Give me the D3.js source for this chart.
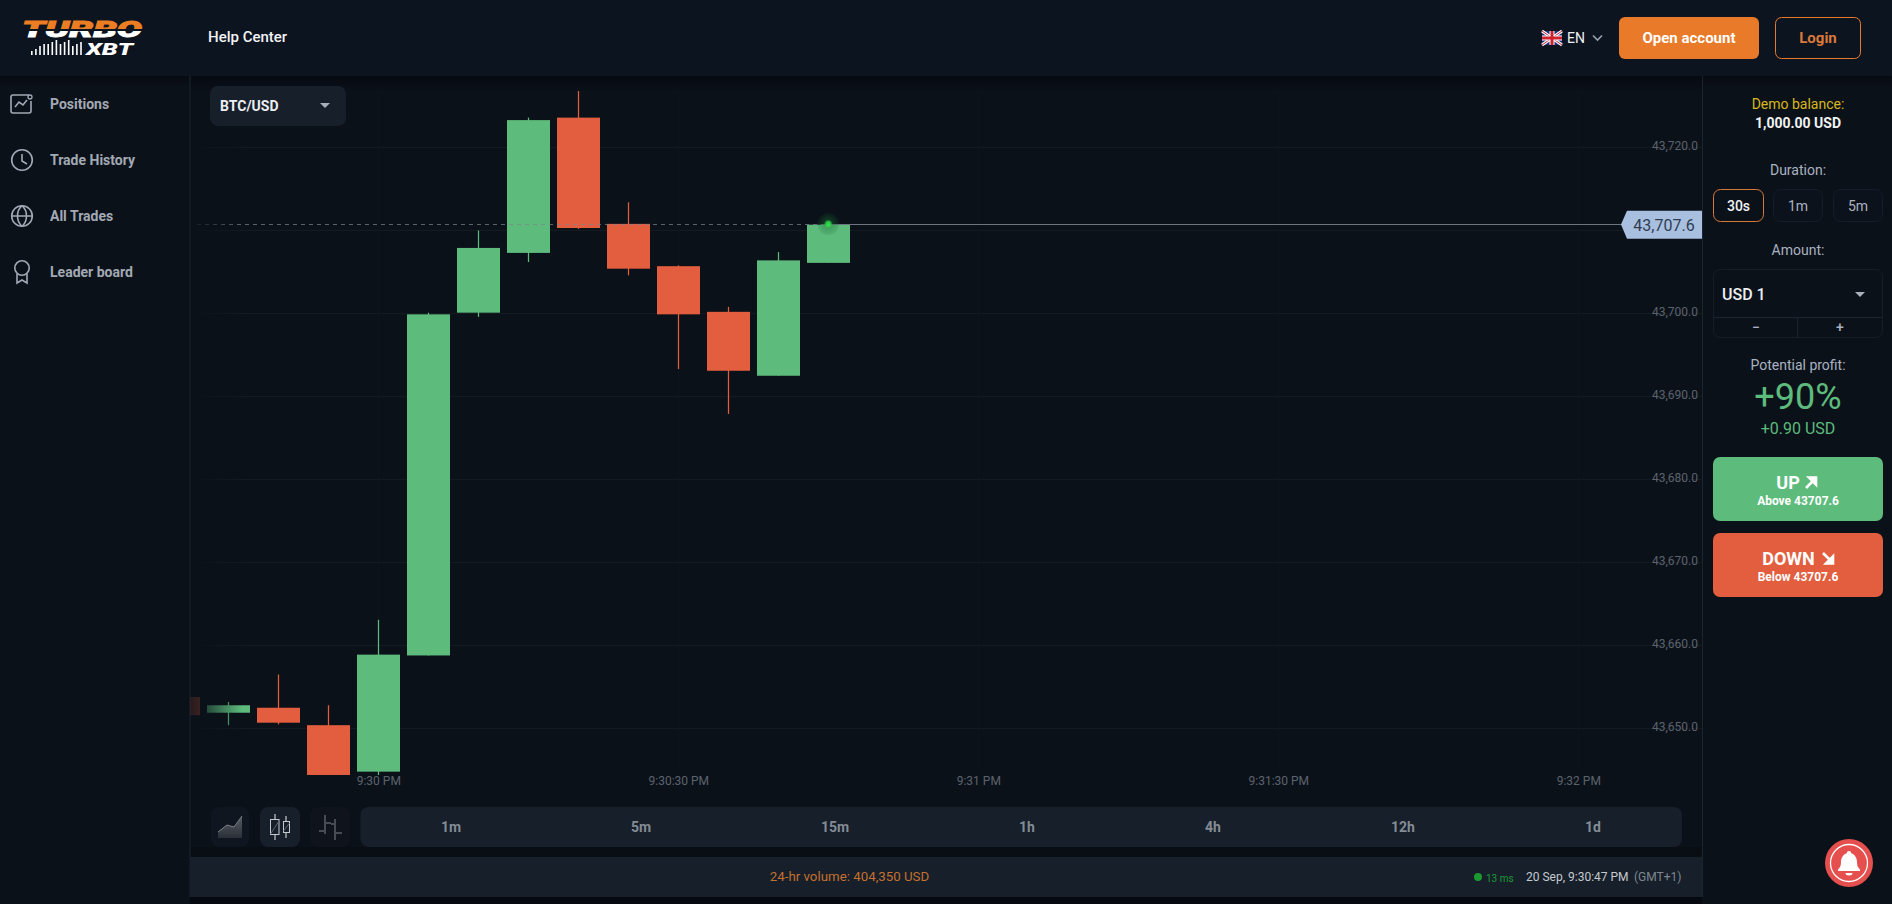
<!DOCTYPE html>
<html><head><meta charset="utf-8">
<script src="https://cdn.jsdelivr.net/npm/d3@7"></script>
<style>
html,body{margin:0;padding:0;background:#0b1119;overflow:hidden}
svg{display:block}
text{font-family:Roboto,sans-serif}
</style></head><body>
<script>
// ---- chart data ----
const candleSeconds = [-20,-15,-10,-5,0,5,10,15,20,25,30,35,40,45];
const opens  = [43653.8,43651.9,43652.5,43650.4,43644.8,43658.8,43700.1,43707.3,43723.6,43710.8,43705.7,43700.2,43692.5,43706.1];
const highs  = [43653.8,43653.2,43656.5,43652.8,43663.1,43700.1,43710.0,43723.6,43726.8,43713.4,43705.8,43700.8,43707.4,43710.7];
const lows   = [43651.6,43650.4,43650.5,43644.4,43644.4,43658.8,43699.6,43706.2,43710.2,43704.6,43693.3,43687.9,43692.5,43706.1];
const closes = [43651.6,43652.8,43650.7,43644.4,43658.9,43699.9,43707.9,43723.3,43710.3,43705.4,43699.9,43693.1,43706.4,43710.7];
const gridLevels = [43650,43660,43670,43680,43690,43700,43710,43720];
const priceTickLabels = [43650,43660,43670,43680,43690,43700,43720];
const timeTickSeconds = [0,30,60,90,120];
const lastPriceLabel = "43,707.6";
const lastPriceLevel = 43710.7;
const timeframes = ["1m","5m","15m","1h","4h","12h","1d"];
const menuItems = ["Positions","Trade History","All Trades","Leader board"];
const durations = ["30s","1m","5m"];

const W=1892,H=904;
const c={bg:"#0b1119",head:"#0c1420",panel:"#161f2a",line:"#1e2631",green:"#5dbb7c",red:"#e25e3e",
  orange:"#e87a2a",muted:"#a3a9b4",soft:"#a9b2c0",tick:"#5c636d"};
const svg=d3.select("body").append("svg").attr("width",W).attr("height",H).attr("viewBox",`0 0 ${W} ${H}`);
const defs=svg.append("defs");
const rect=(x,y,w,h,fill,rx,extra)=>{const e=(extra&&extra.parent||svg).append("rect").attr("x",x).attr("y",y).attr("width",w).attr("height",h).attr("fill",fill);if(rx)e.attr("rx",rx);if(extra&&extra.stroke)e.attr("stroke",extra.stroke);return e;};
const txt=(s,x,y,size,fill,o={})=>{const e=(o.parent||svg).append("text").text(s).attr("x",x).attr("y",y).attr("font-size",size).attr("fill",fill)
  .attr("dominant-baseline","central").attr("text-anchor",o.anchor||"start").attr("font-weight",o.weight||400);return e;};
const path=(d,o={})=>{const e=(o.parent||svg).append("path").attr("d",d).attr("fill",o.fill||"none");if(o.stroke)e.attr("stroke",o.stroke).attr("stroke-width",o.sw||1.5);if(o.cap)e.attr("stroke-linecap",o.cap);return e;};

// ---- frame ----
rect(0,0,W,H,c.bg);
rect(0,0,W,76,c.head);
const hs=defs.append("linearGradient").attr("id","hs").attr("x1",0).attr("x2",0).attr("y1",0).attr("y2",1);
hs.append("stop").attr("offset",0).attr("stop-color","#060a11");hs.append("stop").attr("offset",1).attr("stop-color","#0b1119");
rect(190,76,1512,16,"url(#hs)");
rect(0,76,189,10,"url(#hs)");
rect(1703,76,189,10,"url(#hs)");
rect(190,847,1512,10,"#090e15");
rect(190,897,1512,7,"#060a10");
rect(189.5,76,1,821,"#1c2430");
rect(1702,76,1,821,"#1c2430");

// ---- scales ----
const t0=new Date(2023,8,20,21,30,0);
const toDate=s=>new Date(+t0+s*1000);
const x=d3.scaleTime().domain([toDate(0),toDate(120)]).range([378.3,1578.3]);
const y=d3.scaleLinear().domain([43650,43720]).range([728.5,147.5]);
const bw=43;
const crisp=v=>Math.floor(v)+.5;

// fade on left side of plot
const fade=defs.append("linearGradient").attr("id","fade").attr("gradientUnits","userSpaceOnUse").attr("x1",185).attr("x2",242).attr("y1",0).attr("y2",0);
fade.append("stop").attr("offset",0).attr("stop-color","#111");
fade.append("stop").attr("offset",0.26).attr("stop-color","#383838");
fade.append("stop").attr("offset",1).attr("stop-color","#fff");
defs.append("mask").attr("id","plotMask").attr("maskUnits","userSpaceOnUse").attr("x",190).attr("y",76).attr("width",1512).attr("height",780)
  .append("rect").attr("x",190).attr("y",76).attr("width",1512).attr("height",780).attr("fill","url(#fade)");
const plot=svg.append("g").attr("mask","url(#plotMask)");

// grid
plot.append("g").selectAll("line").data(gridLevels).join("line")
  .attr("x1",190).attr("x2",1702).attr("y1",d=>crisp(y(d))).attr("y2",d=>crisp(y(d))).attr("stroke","#131a22");
plot.append("g").selectAll("line").data(timeTickSeconds).join("line")
  .attr("x1",d=>crisp(x(toDate(d)))).attr("x2",d=>crisp(x(toDate(d)))).attr("y1",92).attr("y2",770).attr("stroke","#0e141c");

// candles
const candles=candleSeconds.map((s,i)=>({t:toDate(s),o:opens[i],h:highs[i],l:lows[i],c:closes[i]}));
const col=d=>d.c>=d.o?c.green:c.red;
const cg=plot.append("g").selectAll("g").data(candles).join("g");
cg.append("line").attr("x1",d=>crisp(x(d.t))).attr("x2",d=>crisp(x(d.t))).attr("y1",d=>y(d.h)).attr("y2",d=>y(d.l)).attr("stroke",col).attr("stroke-width",1.25);
cg.append("rect").attr("x",d=>Math.round(x(d.t)-bw/2)).attr("width",bw).attr("y",d=>y(Math.max(d.o,d.c))).attr("height",d=>Math.abs(y(d.o)-y(d.c))).attr("fill",col);

// price line
const py=crisp(y(lastPriceLevel));
const lastX=x(candles[candles.length-1].t);
plot.append("line").attr("x1",197).attr("x2",lastX).attr("y1",py).attr("y2",py).attr("stroke","#7c8590").attr("stroke-dasharray","4 4").attr("stroke-opacity",.7);
svg.append("line").attr("x1",lastX).attr("x2",1622).attr("y1",py).attr("y2",py).attr("stroke","#6d7680");
const glow=defs.append("radialGradient").attr("id","glow");
glow.append("stop").attr("offset",0).attr("stop-color","#30e84c");
glow.append("stop").attr("offset",.25).attr("stop-color","#2cd046").attr("stop-opacity",.85);
glow.append("stop").attr("offset",.4).attr("stop-color","#1a7a35").attr("stop-opacity",.38);
glow.append("stop").attr("offset",1).attr("stop-color","#14602c").attr("stop-opacity",.1);
svg.append("circle").attr("cx",lastX).attr("cy",py-.5).attr("r",11).attr("fill","url(#glow)");

// axes
const yAxis=d3.axisLeft(y).tickValues(priceTickLabels).tickSize(0).tickPadding(0).tickFormat(d3.format(",.1f"));
const ya=svg.append("g").attr("transform","translate(1698,1)").call(yAxis);
ya.select(".domain").remove();
ya.selectAll("text").attr("font-size",12).attr("font-family","Roboto").attr("fill",c.tick).attr("dy","0.1em");
const xAxis=d3.axisBottom(x).tickValues(timeTickSeconds.map(toDate)).tickSize(0).tickPadding(0).tickFormat(d3.timeFormat("%-I:%M:%S %p"));
const xa=svg.append("g").attr("transform","translate(0,776.5)").call(xAxis);
xa.select(".domain").remove();
xa.selectAll("text").text(d=>d.getSeconds()?d3.timeFormat("%-I:%M:%S %p")(d):d3.timeFormat("%-I:%M %p")(d))
  .attr("font-size",12).attr("font-family","Roboto").attr("fill",c.tick).attr("dy","0.71em");

// price tag
path(`M1621 ${py}L1627 210.7H1702V238.7H1627Z`,{fill:"#a9bfdf"});
txt(lastPriceLabel,1664,225,16,"#2f3d52",{anchor:"middle"});

// ---- header ----
const lg=defs.append("linearGradient").attr("id","logo").attr("gradientUnits","userSpaceOnUse").attr("x1",0).attr("x2",0).attr("y1",21).attr("y2",37);
[[0,"#ec7d22"],[.52,"#ec7d22"],[.53,"#0c1420"],[.6,"#0c1420"],[.61,"#ffffff"],[1,"#ffffff"]].forEach(([o,k])=>lg.append("stop").attr("offset",o).attr("stop-color",k));
svg.append("text").text("TURBO").attr("x",22).attr("y",37).attr("font-size",22).attr("font-weight",900).attr("font-style","italic")
  .attr("font-family","'Liberation Sans'").attr("fill","url(#logo)").attr("stroke","url(#logo)").attr("stroke-width",.9).attr("textLength",120).attr("lengthAdjust","spacingAndGlyphs");
svg.append("text").text("XBT").attr("x",86).attr("y",55).attr("font-size",16).attr("font-weight",900).attr("font-style","italic")
  .attr("font-family","'Liberation Sans'").attr("fill","#fff").attr("textLength",47).attr("lengthAdjust","spacingAndGlyphs");
[4,6,9,11,11,13,15,11,13,15,9,11,13].forEach((h,i)=>rect(31+i*4.1,55-h,1.6,h,"#fff"));
txt("Help Center",208,37,15,"#f2f3f5",{weight:500});

// flag
rect(1542,31,20,14,"#23307a");
path("M1542 31L1562 45M1562 31L1542 45",{stroke:"#fff",sw:3});
path("M1542 31L1562 45M1562 31L1542 45",{stroke:"#d0202e",sw:1});
rect(1549.5,31,5,14,"#fff");rect(1542,35.5,20,5,"#fff");
rect(1550.5,31,3,14,"#d0202e");rect(1542,36.5,20,3,"#d0202e");
txt("EN",1567,38,14,"#eef0f2",{weight:400});
path("M1593 35.5L1597.5 40L1602 35.5",{stroke:"#9aa1ab",sw:1.6});
rect(1619,17,140,42,c.orange,6);
txt("Open account",1689,38,15,"#fff",{anchor:"middle",weight:700});
rect(1775.5,17.5,85,41,"none",6,{stroke:c.orange});
txt("Login",1818,38,15,"#d9793a",{anchor:"middle",weight:700});

// ---- sidebar ----
menuItems.forEach((m,i)=>txt(m,50,104+i*56,14,c.muted,{weight:700}));
const ic={stroke:c.muted,sw:1.6};
path("M29 95H13a2 2 0 0 0-2 2V111a2 2 0 0 0 2 2H29a2 2 0 0 0 2-2V101",ic);
path("M15 107L19 102L23 105L27 100",ic);
svg.append("circle").attr("cx",30).attr("cy",97).attr("r",2).attr("fill","none").attr("stroke",c.muted).attr("stroke-width",1.3);
svg.append("circle").attr("cx",22).attr("cy",160).attr("r",10.3).attr("fill","none").attr("stroke",c.muted).attr("stroke-width",1.6);
path("M22 154V161L27 164",ic);
svg.append("circle").attr("cx",22).attr("cy",216).attr("r",10.3).attr("fill","none").attr("stroke",c.muted).attr("stroke-width",1.6);
path("M12 216H32M22 205.7C16 211 16 221 22 226.3M22 205.7C28 211 28 221 22 226.3",ic);
svg.append("circle").attr("cx",22).attr("cy",268).attr("r",7.2).attr("fill","none").attr("stroke",c.muted).attr("stroke-width",1.6);
path("M17 274V283L22 280L27 283V274",ic);

// symbol selector
rect(210,86,136,40,c.panel,8);
txt("BTC/USD",220,105.5,14,"#eceef1",{weight:700});
path("M320 103H330L325 108Z",{fill:"#a9b0ba"});

// ---- chart-type buttons ----
rect(211,807,38,40,"#10161f",8);
rect(260,807,40,40,c.panel,8);
rect(310,807,40,40,"#0f141c",8);
const ag=defs.append("linearGradient").attr("id","areaG").attr("x1",0).attr("x2",0).attr("y1",0).attr("y2",1);
ag.append("stop").attr("offset",0).attr("stop-color","#5a5f66");ag.append("stop").attr("offset",1).attr("stop-color","#2a2f37");
path("M218 832L227 825L234 827L242 816V838H218Z",{fill:"url(#areaG)"});
path("M218 832L227 825L234 827L242 816",{stroke:"#7b8087",sw:1});
const icw={stroke:"#c5cad0",sw:1.2};
path("M275 814V840M286 816V838",icw);
rect(270.5,819.5,8.5,15,"#161f2a",0,{stroke:"#c5cad0"});
rect(283.5,821.5,6,11,"#161f2a",0,{stroke:"#c5cad0"});
path("M270.5 834L279 821M283.5 831L289.5 823",{stroke:"#5f6670",sw:1});
const icb={stroke:"#474c54",sw:2};
path("M325 815V834M319 831H325M331 823H325M335 819V840M331 824H335M335 833H342",icb);

// timeframes
rect(360.5,807,1321.5,40,c.panel,8);
const tfCenters=[451,641,835,1027,1213,1403,1593];
timeframes.forEach((t,i)=>txt(t,tfCenters[i],826.5,14,"#848b95",{anchor:"middle",weight:700}));

// ---- status bar ----
rect(190,857,1512,40,c.panel);
txt("24-hr volume: 404,350 USD",849.5,876.5,13.3,"#c4702f",{anchor:"middle"});
svg.append("circle").attr("cx",1478).attr("cy",877).attr("r",4).attr("fill","#1a9a2f");
txt("13 ms",1486,878,10,"#1d9a35");
txt("20 Sep, 9:30:47 PM",1526,876.5,12,"#c5cad0");
txt("(GMT+1)",1634,876.5,12,"#7f8790");

// ---- right panel ----
const mx=1798;
txt("Demo balance:",mx,104,14,"#d8b71c",{anchor:"middle"});
txt("1,000.00 USD",mx,123,14,"#f1f2f4",{anchor:"middle",weight:700});
txt("Duration:",mx,170,14,c.soft,{anchor:"middle"});
const dx=[1713.5,1773.5,1833.5],dw=[50,49,49];
durations.forEach((d,i)=>{
  rect(dx[i],189.5,dw[i],32,i==0?"none":"#0c121b",7,{stroke:i==0?"#d9793a":"#161d27"});
  txt(d,dx[i]+dw[i]/2,205.5,14,i==0?"#f1f2f4":c.soft,{anchor:"middle",weight:i==0?500:400});
});
txt("Amount:",mx,250,14,c.soft,{anchor:"middle"});
rect(1713.5,269.5,169,68,"none",7,{stroke:"#171e28"});
path("M1714 317.5H1882M1797.5 317.5V337",{stroke:"#1c2430",sw:1});
txt("USD 1",1722,294,16,"#eceef1",{weight:500});
path("M1855 292H1865L1860 297Z",{fill:"#a9b0ba"});
txt("−",1756,326.5,14,c.soft,{anchor:"middle",weight:500});
txt("+",1840,326.5,14,c.soft,{anchor:"middle",weight:500});
txt("Potential profit:",mx,365,14,c.soft,{anchor:"middle"});
txt("+90%",mx,397,36,c.green,{anchor:"middle"});
txt("+0.90 USD",mx,428,16,c.green,{anchor:"middle"});
rect(1713,457,170,64,c.green,7);
txt("UP",1788,482,18,"#fff",{anchor:"middle",weight:700});
path("M1806 488L1813 481M1809 477.5H1816V484.5Z",{stroke:"#fff",sw:2.6,fill:"#fff"});
txt("Above 43707.6",mx,501,12,"#fff",{anchor:"middle",weight:700});
rect(1713,533,170,64,c.red,7);
txt("DOWN",1788.5,558,18,"#fff",{anchor:"middle",weight:700});
path("M1823 553L1830 560M1833 556.5V563.5H1826Z",{stroke:"#fff",sw:2.6,fill:"#fff"});
txt("Below 43707.6",mx,577,12,"#fff",{anchor:"middle",weight:700});

// ---- notification bell ----
svg.append("circle").attr("cx",1849).attr("cy",863).attr("r",24).attr("fill","#e5504f");
svg.append("circle").attr("cx",1849).attr("cy",863).attr("r",18.5).attr("fill","none").attr("stroke","#fff").attr("stroke-width",1.3);
path("M1849 851a2.2 2.2 0 0 1 2.2 2.2C1855 854.5 1857 858 1857 862C1857 866 1858 867.5 1860 869.5V871H1838V869.5C1840 867.5 1841 866 1841 862C1841 858 1843 854.5 1846.8 853.2A2.2 2.2 0 0 1 1849 851ZM1845.5 873H1852.5A3.5 2.5 0 0 1 1845.5 873Z",{fill:"#fff"});
</script>
</body></html>
